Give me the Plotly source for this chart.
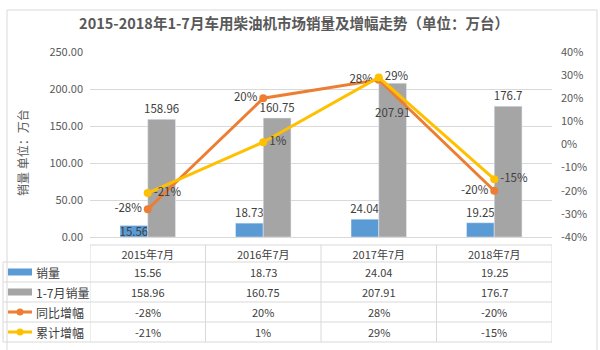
import plotly.graph_objects as go

categories = ["2015年7月", "2016年7月", "2017年7月", "2018年7月"]
sales = [15.56, 18.73, 24.04, 19.25]
sales_ytd = [158.96, 160.75, 207.91, 176.7]
yoy_growth = [-28, 20, 28, -20]
cum_growth = [-21, 1, 29, -15]
series_names = ["销量", "1-7月销量", "同比增幅", "累计增幅"]
left_ticks = [0, 50, 100, 150, 200, 250]
right_ticks = [-40, -30, -20, -10, 0, 10, 20, 30, 40]
right_tick_labels = [f"{v}%" for v in right_ticks]

BLUE, GREY, ORANGE, YELLOW = "#5B9BD5", "#A5A5A5", "#ED7D31", "#FFC000"
TXT = "#404040"
GRID = "#D9D9D9"
FONT = "Noto Sans CJK SC"

W, H = 600, 350
L, R, T, B = 90, 552, 52, 237


def py(ypx):
    return (B - ypx) / (B - T)


def pxx(xpx):
    return (xpx - L) / (R - L)


fig = go.Figure()
fig.add_bar(
    x=categories, y=sales, name=series_names[0], marker_color=BLUE,
    text=[f"{v:g}" for v in sales],
    textposition=["inside", "outside", "outside", "outside"],
    insidetextanchor="middle", constraintext="none", cliponaxis=False, textangle=0,
    textfont=dict(color=TXT, size=11.5, family=FONT),
)
fig.add_bar(
    x=categories, y=sales_ytd, name=series_names[1], marker_color=GREY,
    text=[f"{v:g}" for v in sales_ytd],
    textposition=["outside", "outside", "none", "outside"],
    constraintext="none", cliponaxis=False, textangle=0,
    textfont=dict(color=TXT, size=11.5, family=FONT),
)
fig.add_scatter(
    x=categories, y=yoy_growth, name=series_names[2], yaxis="y2",
    mode="lines+markers+text", line=dict(color=ORANGE, width=3),
    marker=dict(color=ORANGE, size=8),
    text=[f"{v}%" for v in yoy_growth], textposition="middle left",
    textfont=dict(color=TXT, size=11.5, family=FONT), cliponaxis=False,
)
fig.add_scatter(
    x=categories, y=cum_growth, name=series_names[3], yaxis="y2",
    mode="lines+markers+text", line=dict(color=YELLOW, width=3),
    marker=dict(color=YELLOW, size=8),
    text=[f"{v}%" for v in cum_growth], textposition="middle right",
    textfont=dict(color=TXT, size=11.5, family=FONT), cliponaxis=False,
)

shapes = []
annotations = []
line_style = dict(color=GRID, width=1)

# label of the 2017 YTD bar, placed inside the bar as in the original
annotations.append(dict(text=f"{sales_ytd[2]:g}", x=categories[2], y=sales_ytd[2],
                        xref="x", yref="y", xshift=14, yshift=-29, showarrow=False,
                        font=dict(size=11.5, color=TXT, family=FONT)))

# chart area border
shapes.append(dict(type="rect", xref="paper", yref="paper",
                   x0=pxx(7), x1=pxx(597), y0=py(10), y1=py(352),
                   line=line_style, layer="below"))

# data table grid
row_edges = [245, 262, 282, 302, 322, 342]
shapes.append(dict(type="line", xref="x", yref="paper", x0=-0.5, x1=len(categories) - 0.5,
                   y0=py(row_edges[0]), y1=py(row_edges[0]), line=line_style))
for ye in row_edges[1:]:
    shapes.append(dict(type="line", xref="paper", yref="paper", x0=pxx(3), x1=1,
                       y0=py(ye), y1=py(ye), line=line_style))
shapes.append(dict(type="line", xref="paper", yref="paper", x0=pxx(3), x1=pxx(3),
                   y0=py(row_edges[1]), y1=py(row_edges[-1]), line=line_style))
for i in range(len(categories) + 1):
    shapes.append(dict(type="line", xref="x", yref="paper", x0=i - 0.5, x1=i - 0.5,
                       y0=py(row_edges[0]), y1=py(row_edges[-1]), line=line_style))

row_series = [
    ([f"{v:g}" for v in sales], "bar", BLUE),
    ([f"{v:g}" for v in sales_ytd], "bar", GREY),
    ([f"{v}%" for v in yoy_growth], "line", ORANGE),
    ([f"{v}%" for v in cum_growth], "line", YELLOW),
]
for r, (vals, kind, col) in enumerate(row_series):
    y0px, y1px = row_edges[r + 1], row_edges[r + 2]
    yc = (y0px + y1px) / 2
    if kind == "bar":
        shapes.append(dict(type="rect", xref="paper", yref="paper",
                           x0=pxx(8), x1=pxx(32), y0=py(yc - 3.5), y1=py(yc + 3.5),
                           fillcolor=col, line=dict(width=0)))
    else:
        shapes.append(dict(type="line", xref="paper", yref="paper",
                           x0=pxx(8), x1=pxx(32), y0=py(yc), y1=py(yc),
                           line=dict(color=col, width=3)))
        shapes.append(dict(type="circle", xref="paper", yref="paper",
                           x0=pxx(16.5), x1=pxx(23.5), y0=py(yc - 3.5), y1=py(yc + 3.5),
                           fillcolor=col, line=dict(width=0)))
    annotations.append(dict(text=series_names[r], xref="paper", yref="paper",
                            x=pxx(34), y=py(yc), xanchor="left", yanchor="middle",
                            showarrow=False, font=dict(size=12, color=TXT, family=FONT)))
    for c, v in enumerate(vals):
        annotations.append(dict(text=v, xref="x", yref="paper", x=categories[c], y=py(yc),
                                xanchor="center", yanchor="middle", showarrow=False,
                                font=dict(size=11, color=TXT, family=FONT)))

annotations.append(dict(text="销量 单位：万台", xref="paper", yref="paper",
                        x=pxx(22), y=py(153), textangle=-90, showarrow=False,
                        xanchor="center", yanchor="middle",
                        font=dict(size=12, color="#595959", family=FONT)))

fig.update_layout(
    width=W, height=H,
    margin=dict(l=L, r=W - R, t=T, b=H - B),
    paper_bgcolor="white", plot_bgcolor="white",
    showlegend=False,
    barmode="group", bargap=0.52, bargroupgap=0,
    font=dict(family=FONT, color=TXT),
    title=dict(text="<b>2015-2018年1-7月车用柴油机市场销量及增幅走势（单位：万台）</b>",
               x=294 / W, xanchor="center", y=1 - 24 / H, yanchor="middle",
               font=dict(size=14.5, color="#595959", family=FONT)),
    xaxis=dict(type="category", categoryarray=categories, range=[-0.5, len(categories) - 0.5],
               showgrid=False, showline=True, linecolor=GRID, ticks="",
               tickfont=dict(size=11, color=TXT, family=FONT), ticklabelstandoff=8),
    yaxis=dict(range=[left_ticks[0], left_ticks[-1]], tickvals=left_ticks, tickformat=".2f",
               showgrid=True, gridcolor=GRID, zeroline=False, showline=False,
               tickfont=dict(size=11, color="#595959", family=FONT), ticklabelstandoff=6),
    yaxis2=dict(range=[right_ticks[0], right_ticks[-1]], tickvals=right_ticks,
                ticktext=right_tick_labels,
                overlaying="y", side="right", showgrid=False, zeroline=False, showline=False,
                tickfont=dict(size=11, color="#595959", family=FONT), ticklabelstandoff=8),
    shapes=shapes, annotations=annotations,
)

fig.write_html("out.html")
